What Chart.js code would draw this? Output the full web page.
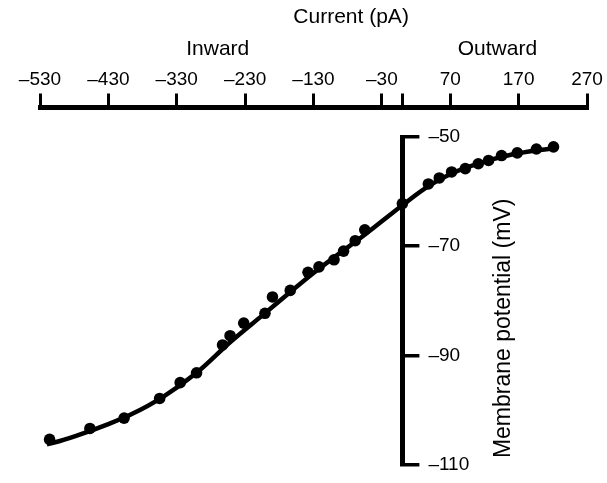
<!DOCTYPE html>
<html>
<head>
<meta charset="utf-8">
<style>
html,body{margin:0;padding:0;background:#fff;}
#wrap{width:607px;height:483px;}
</style>
<script src="https://cdn.jsdelivr.net/npm/chart.js@4/dist/chart.umd.min.js"></script>
</head>
<body>
<div id="wrap"><canvas id="c" width="607" height="483"></canvas></div>
<script>
// ---- data ----
const xTickValues = [-530, -430, -330, -230, -130, -30, 0, 70, 170, 270];
const yTickValues = [-110, -90, -70, -50];

const pointCurrent = [-516, -457, -407, -355, -325, -301, -263, -252, -232, -201, -190, -164, -138, -122, -100, -86, -69, -55, 0,
                      38, 54, 72, 92, 111, 126, 145, 168, 196, 221];
const pointPotential = [-105.4, -103.4, -101.5, -97.9, -95.0, -93.2, -88.1, -86.4, -84.1, -82.3, -79.3, -78.1, -74.8, -73.8, -72.5, -70.9, -69.0, -67.0, -62.2,
                        -58.6, -57.5, -56.4, -55.8, -54.9, -54.3, -53.4, -52.9, -52.2, -51.8];

const fitCurrent = [-520, -501, -471, -432, -398, -350, -301, -252, -203, -164, -130, -95, -57, 0, 37, 72, 113, 157, 223];
const fitPotential = [-106.3, -105.7, -104.5, -102.7, -100.9, -97.6, -93.2, -87.6, -82.5, -78.4, -74.9, -71.6, -68.1, -62.5, -59.1, -56.7, -54.8, -53.3, -52.0];

const xTitle = 'Current (pA)';
const inwardLabel = 'Inward';
const outwardLabel = 'Outward';
const yTitle = 'Membrane potential (mV)';

const FONT = '"Liberation Sans", Arial, Helvetica, sans-serif';
const fmt = v => (v < 0 ? '\u2013' + Math.abs(v) : String(v));

// the plotting area spans the whole current axis; the potential axis sits at 0 pA
const areaPlugin = {
  id: 'area',
  afterLayout(chart) {
    const xs = chart.scales.x;
    chart.chartArea.right = xs.right;
    chart.chartArea.width = chart.chartArea.right - chart.chartArea.left;
  }
};

const textPlugin = {
  id: 'texts',
  afterDraw(chart) {
    const ctx = chart.ctx;
    const xs = chart.scales.x;
    const ys = chart.scales.y;
    ctx.save();
    ctx.fillStyle = '#000';
    ctx.textAlign = 'center';
    ctx.textBaseline = 'alphabetic';
    ctx.font = '21px ' + FONT;
    ctx.fillText(xTitle, xs.getPixelForValue(-75), 22.7);
    ctx.fillText(inwardLabel, xs.getPixelForValue(-270), 55);
    ctx.fillText(outwardLabel, xs.getPixelForValue(139), 55);
    ctx.translate(510, ys.getPixelForValue(-85.06));
    ctx.rotate(-Math.PI / 2);
    ctx.font = '23px ' + FONT;
    ctx.fillText(yTitle, 0, 0);
    ctx.restore();
  }
};

new Chart(document.getElementById('c'), {
  type: 'scatter',
  data: {
    datasets: [
      {
        data: fitCurrent.map((x, i) => ({x, y: fitPotential[i]})),
        showLine: true,
        borderColor: '#000',
        borderWidth: 4.5,
        pointRadius: 0,
        cubicInterpolationMode: 'monotone',
        clip: false
      },
      {
        data: pointCurrent.map((x, i) => ({x, y: pointPotential[i]})),
        showLine: false,
        backgroundColor: '#000',
        borderColor: '#000',
        borderWidth: 0,
        pointRadius: 5.8,
        clip: false
      }
    ]
  },
  options: {
    responsive: false,
    animation: false,
    devicePixelRatio: 1,
    layout: {padding: {top: 66.7, left: 40, right: 20, bottom: 10}},
    plugins: {legend: {display: false}, tooltip: {enabled: false}, title: {display: false}},
    scales: {
      x: {
        type: 'linear', position: 'top', fullSize: true, weight: 10,
        min: -530, max: 270,
        afterBuildTicks: s => { s.ticks = xTickValues.map(v => ({value: v})); },
        ticks: {autoSkip: false, maxRotation: 0, minRotation: 0, padding: 2, color: '#000',
                font: {family: FONT, size: 19}, callback: v => (v === 0 ? '' : fmt(v))},
        grid: {display: true, drawOnChartArea: false, drawTicks: true, tickLength: 14,
               tickWidth: 3, tickColor: '#000', color: '#000', lineWidth: 3},
        border: {display: true, color: '#000', width: 5}
      },
      xs: {
        type: 'linear', axis: 'x', position: 'top', weight: 0, min: 0, max: 1,
        ticks: {display: false},
        grid: {display: true, drawOnChartArea: false, drawTicks: true, tickLength: 29.5,
               tickColor: 'rgba(0,0,0,0)', color: 'rgba(0,0,0,0)'},
        border: {display: false}
      },
      y: {
        type: 'linear', position: 'right', min: -110, max: -50,
        afterFit: s => { s.width = 184.6; },
        afterBuildTicks: s => { s.ticks = yTickValues.map(v => ({value: v})); },
        ticks: {padding: 9, color: '#000', font: {family: FONT, size: 19, lineHeight: 1},
                callback: v => fmt(v)},
        grid: {display: true, drawOnChartArea: false, drawTicks: true, tickLength: 17,
               tickWidth: 3.5, tickColor: '#000', color: '#000', lineWidth: 3.5},
        border: {display: true, color: '#000', width: 5}
      }
    }
  },
  plugins: [areaPlugin, textPlugin]
});
</script>
</body>
</html>
